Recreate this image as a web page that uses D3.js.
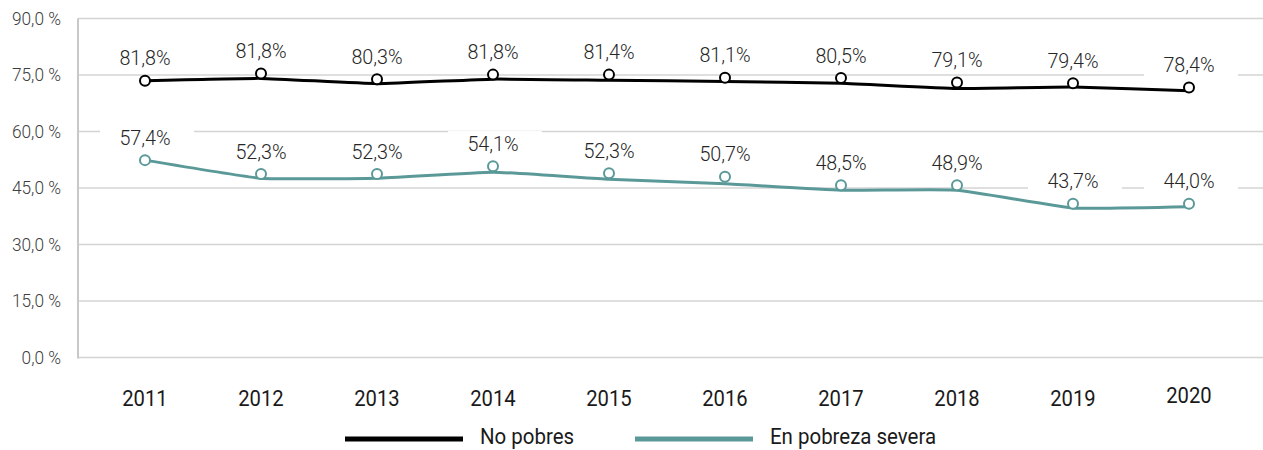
<!DOCTYPE html>
<html lang="es">
<head>
  <meta charset="utf-8">
  <title>No pobres / En pobreza severa</title>
  <style>
body {
  margin: 0;
  overflow: hidden;
  background-color: #fff;
  font-family: Roboto, "Noto Sans", sans-serif;
}
  </style>
  <script src="https://d3js.org/d3.v7.min.js" charset="utf-8"></script>
</head>
<body>
<section id="chart"></section>

<script>

// categories
var years = ['2011', '2012', '2013', '2014', '2015', '2016', '2017', '2018', '2019', '2020'];

// label values as printed on the chart
var noPobresLabels = [81.8, 81.8, 80.3, 81.8, 81.4, 81.1, 80.5, 79.1, 79.4, 78.4];
var severaLabels = [57.4, 52.3, 52.3, 54.1, 52.3, 50.7, 48.5, 48.9, 43.7, 44.0];

// where the markers sit
var noPobresMarkers = [73.5, 75.4, 73.9, 75.1, 75.1, 74.3, 74.2, 73.0, 72.8, 71.7];
var severaMarkers = [52.4, 48.7, 48.7, 50.8, 48.9, 48.0, 45.7, 45.7, 40.8, 40.8];

// where the line passes
var noPobresLine = [73.5, 74.1, 72.7, 73.9, 73.6, 73.3, 72.8, 71.4, 71.8, 70.8];
var severaLine = [52.4, 47.6, 47.6, 49.2, 47.3, 46.1, 44.4, 44.4, 39.7, 40.0];

// y ticks
var yTicks = [0, 15, 30, 45, 60, 75, 90];

var series = [
  { name: 'No pobres', color: '#000', line: noPobresLine, markers: noPobresMarkers, labels: noPobresLabels },
  { name: 'En pobreza severa', color: '#5b9999', line: severaLine, markers: severaMarkers, labels: severaLabels }
];

var w = 1263, h = 450;
var svg = d3.select('#chart').append('svg')
  .attr('width', w)
  .attr('height', h);

var x = d3.scaleBand().domain(years).range([87, 1247]);
var y = d3.scaleLinear().domain([0, 90]).range([357.5, 18.5]);
var cx = function(d) { return x(d) + x.bandwidth() / 2; };

// narrow text a bit, the original uses a condensed face
function squeeze(sel, k) {
  sel.attr('transform', function() {
    var t = d3.select(this);
    var px = +t.attr('x');
    return 'translate(' + px + ',0) scale(' + k + ',1) translate(' + (-px) + ',0)';
  });
}

// gridlines
svg.append('g')
  .selectAll('line')
  .data(yTicks)
  .enter().append('line')
  .attr('x1', 78)
  .attr('x2', w)
  .attr('y1', function(d) { return y(d); })
  .attr('y2', function(d) { return y(d); })
  .attr('stroke', '#d4d4d4')
  .attr('stroke-width', 1.5);

// left axis line
svg.append('line')
  .attr('x1', 78).attr('x2', 78)
  .attr('y1', y(90)).attr('y2', y(0) + 1)
  .attr('stroke', '#c8c8c8')
  .attr('stroke-width', 2);

// y tick labels
var fmt = d3.format('.1f');
svg.append('g')
  .selectAll('text')
  .data(yTicks)
  .enter().append('text')
  .attr('x', 61)
  .attr('y', function(d) { return y(d); })
  .attr('dy', '0.35em')
  .attr('text-anchor', 'end')
  .attr('font-size', 18)
  .attr('font-weight', 300)
  .attr('fill', '#404040')
  .text(function(d) { return fmt(d).replace('.', ',') + ' %'; })
  .call(squeeze, 0.96);

// x tick labels (last one sits a little higher in the original)
svg.append('g')
  .selectAll('text')
  .data(years)
  .enter().append('text')
  .attr('x', cx)
  .attr('y', function(d, i) { return i === years.length - 1 ? 403 : 406; })
  .attr('text-anchor', 'middle')
  .attr('font-size', 22)
  .attr('fill', '#1a1a1a')
  .text(function(d) { return d; })
  .call(squeeze, 0.92);

// data labels with white boxes that cut the gridlines
series.forEach(function(s) {
  var g = svg.append('g');
  var labels = g.selectAll('g')
    .data(years)
    .enter().append('g');

  var txt = labels.append('text')
    .attr('x', cx)
    .attr('y', function(d, i) { return y(s.markers[i]) - 15.5; })
    .attr('text-anchor', 'middle')
    .attr('font-size', 21)
    .attr('font-weight', 300)
    .attr('fill', '#262626')
    .text(function(d, i) { return fmt(s.labels[i]).replace('.', ',') + '%'; })
    .call(squeeze, 0.94);

  txt.each(function() {
    var b = this.getBBox();
    d3.select(this.parentNode).insert('rect', 'text')
      .attr('x', b.x + b.width / 2 - 45)
      .attr('y', b.y)
      .attr('width', 94)
      .attr('height', b.height)
      .attr('fill', '#fff');
  });
});

// lines
var line = d3.line()
  .x(function(d) { return cx(d.year); })
  .y(function(d) { return y(d.v); })
  .curve(d3.curveCardinal.tension(0.6));

series.forEach(function(s) {
  var pts = years.map(function(yr, i) { return { year: yr, v: s.line[i] }; });
  svg.append('path')
    .datum(pts)
    .attr('d', line)
    .attr('fill', 'none')
    .attr('stroke', s.color)
    .attr('stroke-width', 3);

  svg.append('g')
    .selectAll('circle')
    .data(years)
    .enter().append('circle')
    .attr('cx', cx)
    .attr('cy', function(d, i) { return y(s.markers[i]); })
    .attr('r', 5)
    .attr('fill', '#fff')
    .attr('stroke', s.color)
    .attr('stroke-width', 2);
});

// legend
var legendX = [345, 635];
series.forEach(function(s, i) {
  svg.append('line')
    .attr('x1', legendX[i]).attr('x2', legendX[i] + 118)
    .attr('y1', 439).attr('y2', 439)
    .attr('stroke', s.color)
    .attr('stroke-width', 5);
  svg.append('text')
    .attr('x', legendX[i] + 135)
    .attr('y', 444)
    .attr('font-size', 22)
    .attr('fill', '#1a1a1a')
    .text(s.name)
    .call(squeeze, 0.93);
});

</script>

</body>
</html>
